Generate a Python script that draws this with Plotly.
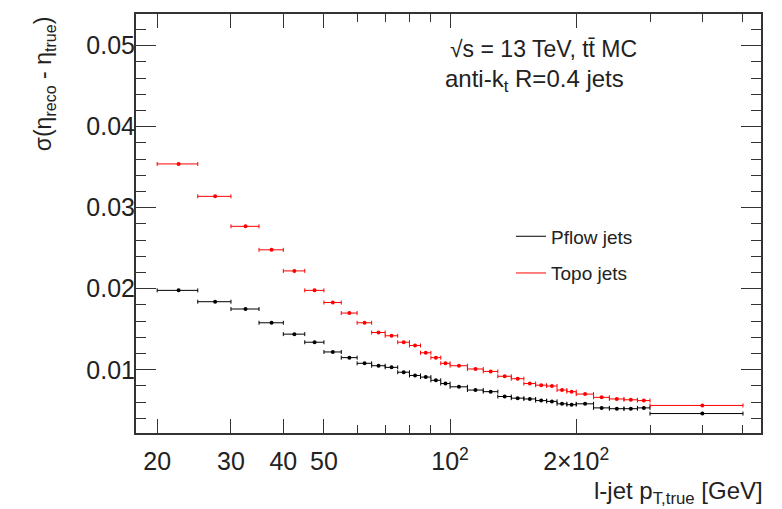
import plotly.graph_objects as go

# Bin edges of true jet pT [GeV]
pt_edges = [20, 25, 30, 35, 40, 45, 50, 55, 60, 65, 70, 75, 80, 85, 90, 95, 100,
            110, 120, 130, 140, 150, 160, 170, 180, 190, 200, 220, 240, 260, 280, 300, 500]

# sigma(eta_reco - eta_true) per bin
pflow_sigma = [0.0198, 0.0184, 0.0175, 0.0158, 0.0144, 0.0134, 0.0122, 0.0115,
               0.0108, 0.0105, 0.0103, 0.0097, 0.0093, 0.0091, 0.0087, 0.0083,
               0.0079, 0.0075, 0.0073, 0.0067, 0.0065, 0.0064, 0.0062, 0.0061,
               0.0058, 0.0057, 0.0058, 0.0053, 0.0052, 0.0052, 0.0053, 0.0046]
topo_sigma = [0.0354, 0.0314, 0.0277, 0.0248, 0.0222, 0.0198, 0.0183, 0.0170,
              0.0158, 0.0146, 0.0142, 0.0134, 0.0130, 0.0121, 0.0115, 0.0108,
              0.0105, 0.0101, 0.0098, 0.0092, 0.0089, 0.0083, 0.0081, 0.0080,
              0.0075, 0.0073, 0.0070, 0.0066, 0.0064, 0.0063, 0.0062, 0.0056]
pflow_err = [0.0001] * len(pflow_sigma)
topo_err = [0.0001] * len(topo_sigma)

x_tickvals = [20, 30, 40, 50, 100, 200]
x_ticktext = ["20", "30", "40", "50", "10<sup>2</sup>", "2×10<sup>2</sup>"]
y_tickvals = [0.01, 0.02, 0.03, 0.04, 0.05]
y_ticktext = ["0.01", "0.02", "0.03", "0.04", "0.05"]

lo = pt_edges[:-1]
hi = pt_edges[1:]
centers = [(a + b) / 2 for a, b in zip(lo, hi)]
err_plus = [b - c for b, c in zip(hi, centers)]
err_minus = [c - a for a, c in zip(lo, centers)]

FONT = "Liberation Sans, Arial, Helvetica, sans-serif"
TXT = "#222222"

fig = go.Figure()

series = [("Pflow jets", pflow_sigma, pflow_err, "#000000"),
          ("Topo jets", topo_sigma, topo_err, "#ff0000")]
for i, (name, vals, errs, col) in enumerate(series):
    fig.add_trace(go.Scatter(
        x=centers, y=vals, mode="markers", name=name, showlegend=False,
        marker=dict(color=col, size=4),
        error_x=dict(type="data", symmetric=False, array=err_plus, arrayminus=err_minus,
                     color=col, thickness=1, width=2),
        error_y=dict(type="data", array=errs, color=col, thickness=1, width=0),
    ))
    fig.add_trace(go.Scatter(
        x=[None], y=[None], mode="lines", name=name, legendgroup=name,
        line=dict(color=col, width=1),
    ))

fig.update_layout(
    width=782, height=509,
    margin=dict(l=136, r=21, t=12, b=76),
    paper_bgcolor="white", plot_bgcolor="white",
    font=dict(family=FONT, color=TXT),
    showlegend=True,
    legend=dict(x=0.6, y=0.425, xanchor="left", yanchor="middle",
                font=dict(size=19, family=FONT, color=TXT),
                bgcolor="rgba(0,0,0,0)", tracegroupgap=9, traceorder="grouped",
                itemwidth=30),
)

fig.update_xaxes(
    type="log", range=[1.2505, 2.742],
    tickvals=x_tickvals, ticktext=x_ticktext,
    tickfont=dict(size=25, family=FONT, color=TXT),
    ticks="inside", ticklen=14, tickcolor="#333333", tickwidth=1,
    minor=dict(tickvals=[60, 70, 80, 90, 300, 400, 500], ticks="inside", ticklen=8,
               tickcolor="#333333"),
    showline=True, linecolor="#333333", linewidth=2, mirror="ticks",
    showgrid=False, zeroline=False, ticklabelstandoff=5,
)
fig.update_yaxes(
    range=[0.0022, 0.0539],
    tickvals=y_tickvals, ticktext=y_ticktext,
    tickfont=dict(size=25, family=FONT, color=TXT),
    ticks="inside", ticklen=20, tickcolor="#333333", tickwidth=1,
    minor=dict(dtick=0.002, ticks="inside", ticklen=10, tickcolor="#333333"),
    showline=True, linecolor="#333333", linewidth=2, mirror="ticks",
    showgrid=False, zeroline=False, ticklabelstandoff=-6,
)

fig.add_annotation(text="√s = 13 TeV, tt̄ MC", xref="paper", yref="paper",
                   x=0.499, y=0.917, xanchor="left", yanchor="middle", showarrow=False,
                   font=dict(size=23, family=FONT, color=TXT))
fig.add_annotation(text="anti-k<sub>t</sub> R=0.4 jets", xref="paper", yref="paper",
                   x=0.491, y=0.841, xanchor="left", yanchor="middle", showarrow=False,
                   font=dict(size=24, family=FONT, color=TXT))
fig.add_annotation(text="σ(η<sub>reco</sub> - η<sub>true</sub>)", xref="paper", yref="paper",
                   x=-0.146, y=1.0, xanchor="center", yanchor="top", textangle=-90,
                   showarrow=False, font=dict(size=23, family=FONT, color=TXT))
fig.add_annotation(text="l-jet p<sub>T,true</sub> [GeV]", xref="paper", yref="paper",
                   x=1.006, y=-0.1425, xanchor="right", yanchor="middle", showarrow=False,
                   font=dict(size=24, family=FONT, color=TXT))

fig.write_html("out.html")
